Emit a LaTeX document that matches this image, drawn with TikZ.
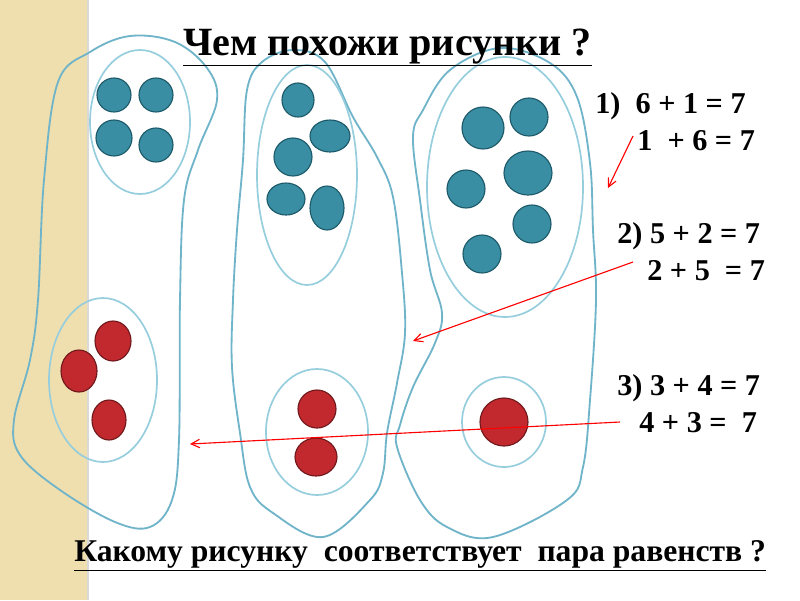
\documentclass[tikz,border=0pt]{standalone}
\usepackage{fontspec}
\setmainfont{Liberation Serif}
\usetikzlibrary{arrows.meta}

\definecolor{beige}{RGB}{240,223,174}
\definecolor{rim}{RGB}{112,180,202}
\definecolor{rimlight}{RGB}{150,206,221}
\definecolor{tealdot}{RGB}{58,142,163}
\definecolor{tealedge}{RGB}{28,90,106}
\definecolor{reddot}{RGB}{193,41,46}
\definecolor{rededge}{RGB}{112,24,28}

\begin{document}
\begin{tikzpicture}[x=0.025cm, y=-0.025cm,
    blob/.style={draw=rim, line width=1.3pt},
    ring/.style={draw=rimlight, line width=1.2pt},
    tdot/.style={fill=tealdot, draw=tealedge, line width=0.8pt},
    rdot/.style={fill=reddot, draw=rededge, line width=0.8pt},
    hint/.style={draw=red, line width=0.8pt, -{Straight Barb[length=6pt,width=6pt]}},
    eq/.style={anchor=base west, inner sep=0pt, font=\bfseries\fontsize{21.5}{24}\selectfont},
    ask/.style={anchor=base west, inner sep=0pt}]
        \useasboundingbox (0,0) rectangle (800,600);
        \fill[beige] (0,0) rectangle (88,600);
        \fill[white] (88,0) rectangle (800,600);
        \draw[black!15, line width=1pt] (88,0) -- (88,600);
        % first picture
        \draw[blob] plot[smooth cycle, tension=0.6] coordinates {(58,82) (90,52) (130,36) (175,42) (207,68) (217,100) (198,150) (184,200) (180,300) (179,440) (172,500) (150,527) (115,522) (60,490) (20,455) (14,420) (30,360) (38,300) (44,180)};
        \draw[ring] (140,122) ellipse [x radius=50, y radius=72];
        \draw[ring] (103,380) ellipse [x radius=54, y radius=82];
        \path[tdot] (114,95) circle [radius=17];
        \path[tdot] (156,95) circle [radius=17];
        \path[tdot] (114,138) circle [radius=18];
        \path[tdot] (156,145) circle [radius=17];
        \path[rdot] (113,341) ellipse [x radius=18, y radius=20];
        \path[rdot] (79,371) ellipse [x radius=18, y radius=21];
        \path[rdot] (109,420) ellipse [x radius=17, y radius=20];
        % second picture
        \draw[blob] plot[smooth cycle, tension=0.6] coordinates {(247,90) (262,62) (293,50) (325,62) (353,117) (377,157) (393,197) (402,273) (405,333) (397,383) (387,433) (383,473) (370,500) (323,537) (273,513) (250,487) (240,433) (232,367) (233,300) (237,230) (243,160)};
        \draw[ring] (307,175) ellipse [x radius=50, y radius=110];
        \draw[ring] (317,432) ellipse [x radius=51, y radius=63];
        \path[tdot] (298,100) ellipse [x radius=16, y radius=17];
        \path[tdot] (330,136) ellipse [x radius=20, y radius=16];
        \path[tdot] (293,157) circle [radius=19];
        \path[tdot] (286,199) ellipse [x radius=19, y radius=16];
        \path[tdot] (327,208) ellipse [x radius=17, y radius=22];
        \path[rdot] (317,409) circle [radius=19];
        \path[rdot] (316,457) ellipse [x radius=21, y radius=19];
        % third picture
        \draw[blob] plot[smooth cycle, tension=0.6] coordinates {(413,137) (423,110) (450,70) (500,48) (550,63) (577,97) (590,163) (593,230) (596,300) (590,400) (583,467) (567,500) (493,537) (447,527) (420,500) (397,447) (400,425) (413,387) (435,343) (442,313) (430,270) (420,200)};
        \draw[ring] (505,187) ellipse [x radius=78, y radius=130];
        \draw[ring] (504,422) ellipse [x radius=42, y radius=45];
        \path[tdot] (483,128) circle [radius=21];
        \path[tdot] (529,117) circle [radius=19];
        \path[tdot] (528,173) ellipse [x radius=24, y radius=22];
        \path[tdot] (466,189) circle [radius=19];
        \path[tdot] (532,224) circle [radius=19];
        \path[tdot] (482,254) circle [radius=19];
        \path[rdot] (504,422) circle [radius=24];
        % texts
        \node[ask, font=\bfseries\fontsize{28.5}{30}\selectfont] (title) at (183,55) {\underline{Чем похожи рисунки ?}};
        \node[eq] (e1a) at (595,113) {1)\ \ 6 + 1 = 7};
        \node[eq] (e1b) at (637,150) {1\ \ + 6 = 7};
        \node[eq] (e2a) at (617,243) {2) 5 + 2 = 7};
        \node[eq] (e2b) at (647,280) {2 + 5\ \ = 7};
        \node[eq] (e3a) at (617,395) {3) 3 + 4 = 7};
        \node[eq] (e3b) at (639,432) {4 + 3 =\ \ 7};
        \node[ask, font=\bfseries\fontsize{22.5}{24}\selectfont] (quest) at (74,561) {\underline{Какому рисунку\ \ соответствует\ \ пара равенств ?}};
        % arrows
        \coordinate (s1) at (633,136);
        \coordinate (t1) at (608,188);
        \coordinate (s2) at (633,262);
        \coordinate (t2) at (413,341);
        \coordinate (s3) at (620,422);
        \coordinate (t3) at (190,444);
        \path[hint] (s1) -- (t1);
        \path[hint] (s2) -- (t2);
        \path[hint] (s3) -- (t3);
    \end{tikzpicture}
\end{document}
